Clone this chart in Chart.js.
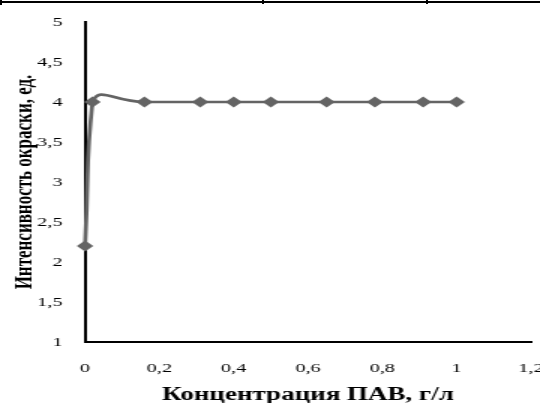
<!DOCTYPE html>
<html>
<head>
<meta charset="utf-8">
<script src="https://cdn.jsdelivr.net/npm/chart.js@4"></script>
<style>
	html, body { margin:0; padding:0; background:#fff; overflow:hidden; }
	#wrap { position:relative; width:540px; height:403px; overflow:hidden; }
	/* the reference picture is stretched sideways, so the chart is drawn narrow and widened */
	#stretch { position:absolute; left:0; top:0; width:370px; height:403px; transform:scaleX(1.5); transform-origin:0 0; }
	#topline { position:absolute; left:0; top:1px; width:540px; height:0; border-top:2px solid #000; }
	.tick { position:absolute; top:0; width:2px; height:4px; background:#000; }
</style>
</head>
<body>
<div id="wrap">
	<div id="stretch"><canvas id="myChart" width="370" height="403"></canvas></div>
	<div id="topline"></div>
	<div class="tick" style="left:0;height:5px"></div>
	<div class="tick" style="left:262px"></div>
	<div class="tick" style="left:426px"></div>
</div>
<script>
const concentrations = [0, 0.02, 0.16, 0.31, 0.4, 0.5, 0.65, 0.78, 0.91, 1.0];
const intensity = [2.2, 4.0, 4.0, 4.0, 4.0, 4.0, 4.0, 4.0, 4.0, 4.0];
const xTitle = 'Концентрация ПАВ, г/л';
const yTitle = 'Интенсивность окраски, ед.';

const fmt = v => String(Math.round(v * 10) / 10).replace('.', ',');
const serif = 'Liberation Serif';

// drop the label overflow padding, layout.padding sets the plot box
const noPad = s => { s.paddingTop = 0; s.paddingBottom = 0; s.paddingLeft = 0; s.paddingRight = 0; };

const ctx = document.getElementById('myChart');

new Chart(ctx, {
	type: 'line',
	data: {
		datasets: [{
			data: concentrations.map((c, i) => ({x: c, y: intensity[i]})),
			borderColor: '#646464',
			backgroundColor: '#646464',
			borderWidth: 2.7,
			pointStyle: 'rectRot',
			pointRadius: 5.5,
			pointBorderWidth: 0,
			tension: 0.6,
			clip: false
		}]
	},
	options: {
		responsive: false,
		animation: false,
		devicePixelRatio: 1,
		layout: { padding: { top: 22, right: 16, left: 0, bottom: 0 } },
		plugins: { legend: { display: false }, tooltip: { enabled: false } },
		scales: {
			x: {
				type: 'linear',
				min: 0, max: 1.2,
				grid: { display: false, drawTicks: false },
				border: { color: '#000', width: 2 },
				ticks: { stepSize: 0.2, padding: 18, color: '#000', maxRotation: 0,
					font: { family: serif, size: 13.5 }, callback: fmt },
				title: { display: true, text: xTitle, color: '#000', padding: { top: 0, bottom: -3 },
					font: { family: serif, size: 18, weight: 'bold' } },
				afterFit: s => { s.height = 61; noPad(s); }
			},
			y: {
				min: 1, max: 5,
				grid: { display: false, drawTicks: false },
				border: { color: '#000', width: 2 },
				ticks: { stepSize: 0.5, padding: 15, color: '#000',
					font: { family: serif, size: 13.5 }, callback: fmt },
				title: { display: true, text: yTitle, color: '#000', padding: { top: 6, bottom: 0 },
					font: { family: serif, size: 17, weight: 'bold' } },
				afterFit: s => { s.width = 56.7; noPad(s); }
			}
		}
	}
});
</script>
</body>
</html>
